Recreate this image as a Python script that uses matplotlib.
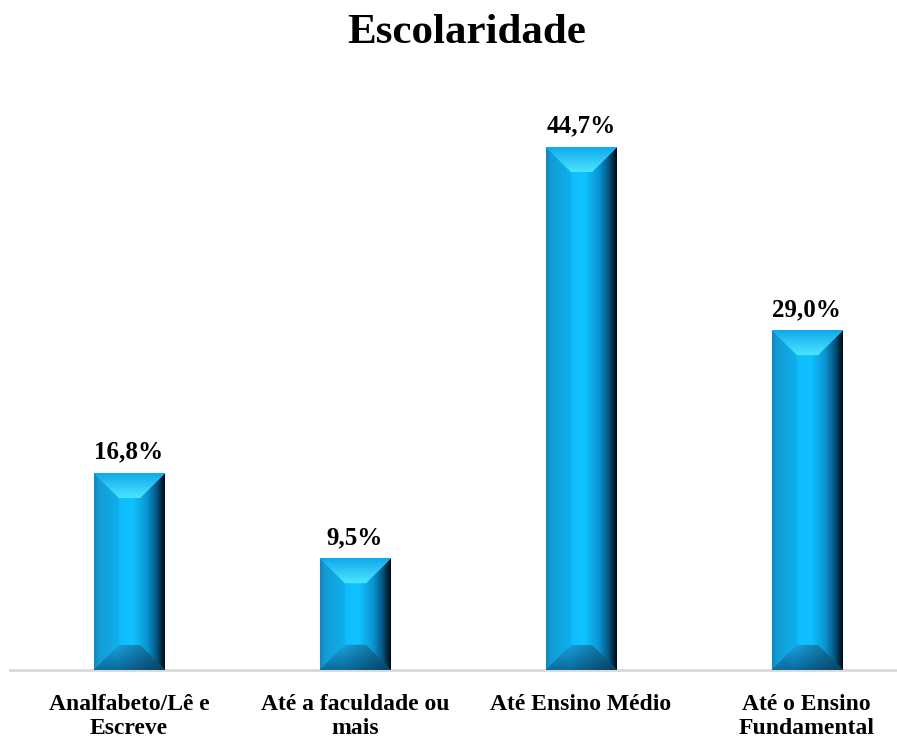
import numpy as np
import matplotlib
matplotlib.use("Agg")
import matplotlib.pyplot as plt

categories = ["Analfabeto/Lê e\nEscreve", "Até a faculdade ou\nmais", "Até Ensino Médio", "Até o Ensino\nFundamental"]
values = [16.8, 9.5, 44.7, 29.0]
value_labels = ["16,8%", "9,5%", "44,7%", "29,0%"]
title = "Escolaridade"

W, H, DPI = 897, 738, 100
fig = plt.figure(figsize=(W / DPI, H / DPI), dpi=DPI)
ax = fig.add_axes([10 / W, 68 / H, (W - 10) / W, (670 - 85) / H])
ax.set_xlim(-0.527, 3.40)
ax.set_ylim(0, 50)

font = "Liberation Serif"
bar_w = 0.31
x = np.arange(len(values))
bars = ax.bar(x, values, width=bar_w, color="#12b4ef", edgecolor="#9cc9dc", linewidth=0.8, zorder=2)

# horizontal shading profile
hx = [0.0, 0.08, 0.35, 0.55, 0.75, 0.88, 1.0]
hc = np.array([[0.10, 0.55, 0.78], [0.08, 0.66, 0.90], [0.06, 0.74, 1.0], [0.06, 0.76, 1.0],
               [0.04, 0.58, 0.82], [0.02, 0.34, 0.52], [0.0, 0.04, 0.08]])

def horiz(u):
    return np.stack([np.interp(u, hx, hc[:, k]) for k in range(3)], axis=-1)

fig.canvas.draw()
for rect in bars:
    x0, y0 = rect.get_x(), rect.get_y()
    bw, bh = rect.get_width(), rect.get_height()
    p0 = ax.transData.transform((x0, y0))
    p1 = ax.transData.transform((x0 + bw, y0 + bh))
    pw = max(int(round(p1[0] - p0[0])), 2)
    ph = max(int(round(p1[1] - p0[1])), 2)
    b = 25.0
    jj, ii = np.meshgrid(np.arange(pw) + 0.5, np.arange(ph) + 0.5)
    dl, dr, dt, db = jj, pw - jj, ii, ph - ii
    u = jj / pw
    img = horiz(u)
    left = (dl < b) & (dl < dt) & (dl < db)
    img = np.where(left[..., None], img * 0.93, img)
    top = (dt < b) & (dt <= dl) & (dt <= dr)
    t = (dt / b)[..., None]
    c_out = np.array([0.06, 0.66, 0.92]); c_in = np.array([0.30, 0.90, 1.0])
    topc = c_out * (1 - t) + c_in * t
    img = np.where(top[..., None], topc, img)
    bot = (db < b) & (db <= dl) & (db <= dr)
    t2 = (db / b)[..., None]
    b_out = np.array([0.04, 0.42, 0.62]); b_in = np.array([0.10, 0.62, 0.86])
    botc = b_out * (1 - t2) + b_in * t2
    shade = np.clip(1.2 - 0.6 * u, 0.6, 1.0)[..., None]
    img = np.where(bot[..., None], botc * shade, img)
    ax.imshow(np.clip(img, 0, 1), extent=(x0, x0 + bw, y0, y0 + bh), aspect="auto",
              interpolation="bilinear", zorder=3, origin="upper")

for xi, v, lab in zip(x, values, value_labels):
    ax.annotate(lab, (xi, v), xytext=(0, 7), textcoords="offset points", ha="center", va="bottom",
                fontsize=18, fontweight="bold", family=font, color="black")

ax.set_xlim(-0.527, 3.40)
ax.set_ylim(0, 50)
ax.set_xticks(x)
ax.set_xticklabels(categories, fontsize=17, fontweight="bold", family=font, linespacing=1.2)
ax.tick_params(axis="x", length=0, pad=17)
ax.set_yticks([])
for s in ["top", "right", "left"]:
    ax.spines[s].set_visible(False)
ax.spines["bottom"].set_color("#d9d9d9")
ax.spines["bottom"].set_linewidth(2)
ax.spines["bottom"].set_zorder(1)

fig.text(467 / W, 1 - 33 / H, title, ha="center", va="center", fontsize=31, fontweight="bold", family=font)
fig.savefig("out.png", dpi=DPI)
